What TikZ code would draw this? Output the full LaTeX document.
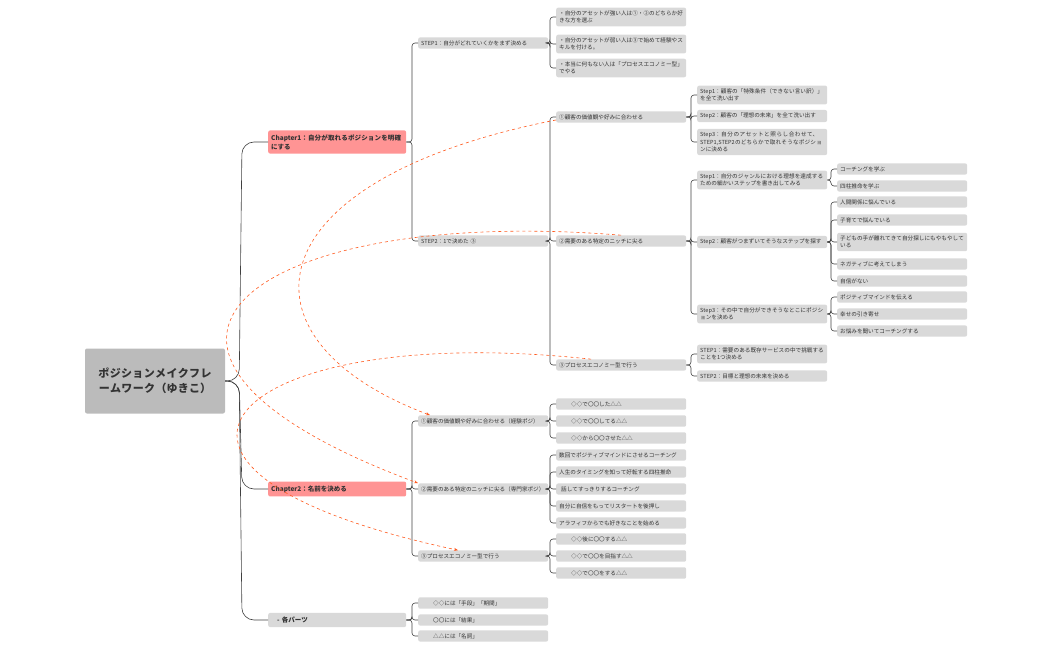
\documentclass[tikz,border=0pt]{standalone}
\usepackage{fontspec}
\setmainfont{Noto Sans CJK JP}
\XeTeXlinebreaklocale "ja"
\XeTeXlinebreakskip=0pt plus 1pt
\usetikzlibrary{arrows.meta}
\definecolor{box}{HTML}{D9D9D9}
\definecolor{chap}{HTML}{FF9494}
\definecolor{rootc}{HTML}{BBBBBB}
\definecolor{rel}{HTML}{FF5A1F}
\begin{document}
\begin{tikzpicture}[x=1pt,y=-1pt,
 b/.style={fill=box,rounded corners=2pt,anchor=west,align=left,inner xsep=3pt,inner ysep=3pt,
   text width=#1,font=\fontsize{5.6}{7.5}\selectfont,text=black!80},
 b/.default=124,
 c/.style={b=132,fill=chap,font=\fontsize{6.5}{9}\selectfont\bfseries,inner ysep=4pt},
 conn/.style={draw=black!75,line width=0.6pt,rounded corners=3pt},
 relc/.style={draw=rel,dashed,line width=0.6pt,-{Stealth[length=4pt,width=3pt]}}]
\useasboundingbox (0,0) rectangle (1050,650);
\node[fill=rootc,rounded corners=2pt,text width=128,align=center,inner sep=6pt,minimum height=65,
  font=\fontsize{11}{15}\selectfont\bfseries,text=black!80] (r) at (155,381) {ポジションメイクフレームワーク（ゆきこ）};
\node[c] (c1) at (268,142) {Chapter1：自分が取れるポジションを明確にする};
\node[c] (c2) at (268,489) {Chapter2：名前を決める};
\node[c,fill=box] (c3) at (268,620) {\hspace{6pt}- 各パーツ};
% chapter1
\node[b] (s1) at (418,43) {STEP1：自分がどれていくかをまず決める};
\node[b] (s2) at (418,241) {STEP2：1で決めた ③};
\node[b] (s11) at (556,17) {・自分のアセットが強い人は①・②のどちらか好きな方を選ぶ};
\node[b] (s12) at (556,44) {・自分のアセットが弱い人は③で始めて経験やスキルを付ける。};
\node[b] (s13) at (556,68) {・本当に何もない人は「プロセスエコノミー型」でやる};
\node[b] (a1) at (556,117) {①顧客の価値観や好みに合わせる};
\node[b] (a2) at (556,241) {②需要のある特定のニッチに尖る};
\node[b] (a3) at (556,365) {③プロセスエコノミー型で行う};
\node[b] (a11) at (697,95) {Step1：顧客の「特殊条件（できない言い訳）」を全て洗い出す};
\node[b] (a12) at (697,116) {Step2：顧客の「理想の未来」を全て洗い出す};
\node[b] (a13) at (697,142) {Step3：自分のアセットと照らし合わせて、STEP1,STEP2のどちらかで取れそうなポジションに決める};
\node[b] (a21) at (697,180) {Step1：自分のジャンルにおける理想を達成するための細かいステップを書き出してみる};
\node[b] (a22) at (697,242) {Step2：顧客がつまずいてそうなステップを探す};
\node[b] (a23) at (697,314) {Step3：その中で自分ができそうなとこにポジションを決める};
\node[b] (a211) at (837,169) {コーチングを学ぶ};
\node[b] (a212) at (837,186) {四柱推命を学ぶ};
\node[b] (a221) at (837,202) {人間関係に悩んでいる};
\node[b] (a222) at (837,220) {子育てで悩んでいる};
\node[b] (a223) at (837,242) {子どもの手が離れてきて自分探しにもやもやしている};
\node[b] (a224) at (837,264) {ネガティブに考えてしまう};
\node[b] (a225) at (837,281) {自信がない};
\node[b] (a231) at (837,297) {ポジティブマインドを伝える};
\node[b] (a232) at (837,314) {幸せの引き寄せ};
\node[b] (a233) at (837,331) {お悩みを聞いてコーチングする};
\node[b] (a31) at (697,354) {STEP1：需要のある既存サービスの中で挑戦することを1つ決める};
\node[b] (a32) at (697,376) {STEP2：目標と理想の未来を決める};
% chapter2
\node[b] (d1) at (418,421) {①顧客の価値観や好みに合わせる（経験ポジ）};
\node[b] (d2) at (418,489) {②需要のある特定のニッチに尖る（専門家ポジ）};
\node[b] (d3) at (418,556) {③プロセスエコノミー型で行う};
\node[b] (d11) at (556,404) {\hspace{12pt}◇◇で〇〇した△△};
\node[b] (d12) at (556,421) {\hspace{12pt}◇◇で〇〇してる△△};
\node[b] (d13) at (556,438) {\hspace{12pt}◇◇から〇〇させた△△};
\node[b] (d21) at (556,455) {数回でポジティブマインドにさせるコーチング};
\node[b] (d22) at (556,472) {人生のタイミングを知って好転する四柱推命};
\node[b] (d23) at (556,489) {\hspace{2pt}話してすっきりするコーチング};
\node[b] (d24) at (556,506) {自分に自信をもってリスタートを後押し};
\node[b] (d25) at (556,523) {アラフィフからでも好きなことを始める};
\node[b] (d31) at (556,539) {\hspace{12pt}◇◇後に〇〇する△△};
\node[b] (d32) at (556,556) {\hspace{12pt}◇◇で〇〇を目指す△△};
\node[b] (d33) at (556,573) {\hspace{12pt}◇◇で〇〇をする△△};
\node[b] (e1) at (418,603) {\hspace{12pt}◇◇には「手段」「期間」};
\node[b] (e2) at (418,620) {\hspace{12pt}〇〇には「結果」};
\node[b] (e3) at (418,636) {\hspace{12pt}△△には「名詞」};
% connectors
\foreach \p/\c in {c1/s1,c1/s2,s1/s11,s1/s12,s1/s13,s2/a1,s2/a2,s2/a3,a1/a11,a1/a12,a1/a13,
  a2/a21,a2/a22,a2/a23,a21/a211,a21/a212,a22/a221,a22/a222,a22/a223,a22/a224,a22/a225,
  a23/a231,a23/a232,a23/a233,a3/a31,a3/a32,c2/d1,c2/d2,c2/d3,d1/d11,d1/d12,d1/d13,
  d2/d21,d2/d22,d2/d23,d2/d24,d2/d25,d3/d31,d3/d32,d3/d33,c3/e1,c3/e2,c3/e3}
  \draw[conn] (\p.east) -| ([xshift=-6]\c.west) -- (\c.west);
\foreach \c in {c1,c2,c3}
  \draw[draw=black!75,line width=0.6pt,rounded corners=12pt] (r.east) -- ++(14,0) -- ([xshift=-26]\c.west) -- (\c.west);
% relationships
\draw[relc] (a1.west) ++(0,3) .. controls (250,180) and (230,340) .. ([xshift=12]d1.north west);
\draw[relc] (a2.north) .. controls (250,205) and (60,350) .. (d2.north west);
\draw[relc] ([xshift=-30]a3.north) .. controls (230,320) and (80,470) .. ([xshift=40]d3.north west);
\end{tikzpicture}
\end{document}
